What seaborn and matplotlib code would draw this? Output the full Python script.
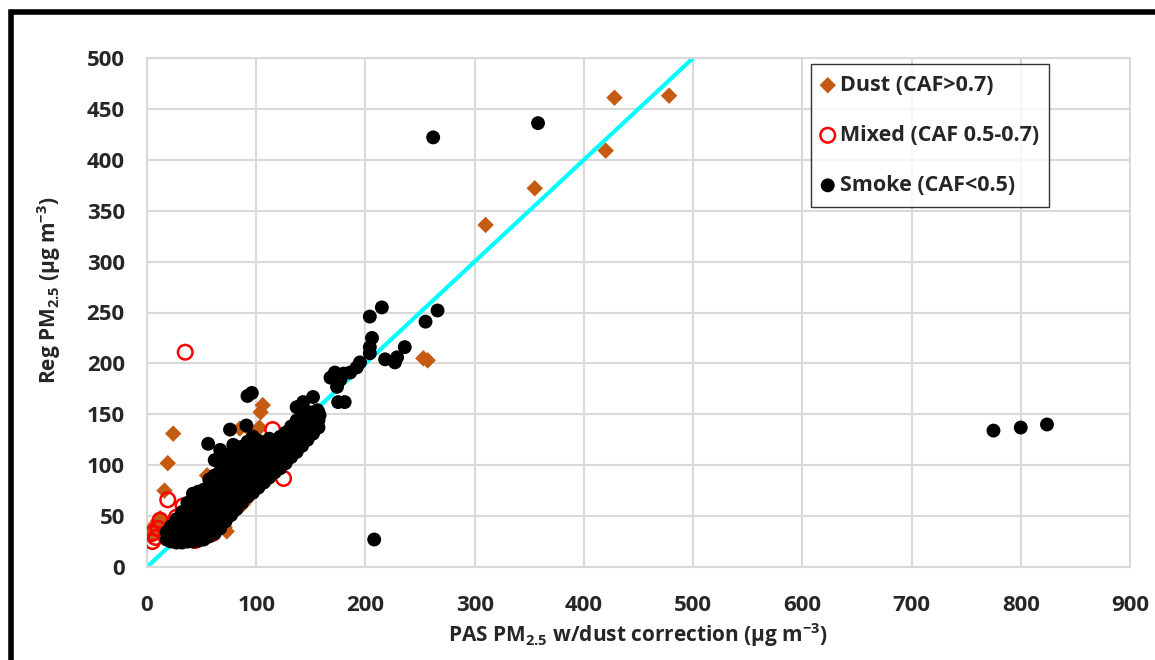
import numpy as np
import pandas as pd
import matplotlib
matplotlib.use("Agg")
import matplotlib.pyplot as plt
import seaborn as sns
from matplotlib.patches import Rectangle

# Dust (CAF>0.7)
dust_x = [478, 428, 420, 355, 310, 253, 257,
          24, 19, 16, 106, 104, 103, 97, 94, 85, 92, 71,
          3, 5, 7, 8, 10, 12, 14, 16,
          71, 73, 91, 88, 84, 78, 66, 76, 82, 57, 55, 60,
          95, 100, 110, 115, 120, 45, 50, 38, 30, 62]
dust_y = [463, 461, 409, 372, 336, 205, 203,
          131, 102, 75, 159, 152, 137, 128, 123, 136, 137, 107,
          30, 38, 35, 42, 45, 48, 44, 40,
          39, 35, 66, 62, 58, 54, 44, 61, 56, 88, 90, 80,
          72, 78, 85, 92, 98, 32, 36, 30, 28, 40]

# Mixed (CAF 0.5-0.7)
mixed_x = [35, 115, 125, 19, 33, 27, 12, 5, 5, 10, 51, 46, 60, 38, 44, 8]
mixed_y = [211, 135, 87, 66, 60, 49, 46, 33, 25, 38, 30, 27, 33, 27, 26, 29]

# Smoke (CAF<0.5), band columns
smoke_cols = {
    18: [27, 34],
    22: [25, 32, 40],
    27: [24, 31, 39, 47],
    32: [24, 31, 39, 47, 54],
    37: [25, 32, 40, 48, 56, 63],
    42: [25, 33, 41, 49, 57, 65, 72],
    47: [26, 34, 42, 50, 58, 66, 74],
    52: [27, 35, 43, 51, 59, 67, 76],
    57: [30, 38, 46, 54, 62, 70, 78, 86],
    62: [33, 41, 49, 57, 65, 73, 81, 90],
    67: [38, 46, 54, 62, 70, 78, 86, 94],
    72: [45, 52, 60, 68, 76, 84, 92, 100, 108],
    77: [51, 58, 66, 74, 82, 90, 98, 106, 112],
    82: [57, 64, 72, 80, 88, 96, 104, 112, 118],
    87: [63, 70, 78, 86, 94, 102, 110, 118],
    92: [69, 75, 83, 91, 99, 107, 115, 123],
    97: [73, 80, 88, 96, 104, 112, 120, 128],
    102: [78, 84, 92, 100, 108, 116, 124],
    107: [83, 90, 98, 106, 114, 122],
    112: [88, 94, 102, 110, 118, 126],
    117: [93, 100, 108, 116, 124],
    122: [97, 104, 112, 120, 128],
    127: [102, 108, 116, 124, 132],
    132: [108, 114, 122, 130, 138],
    137: [113, 120, 128, 136, 144],
    142: [119, 126, 134, 142, 150],
    147: [125, 132, 140, 148],
    152: [131, 138, 146],
    157: [137, 144, 152],
}
smoke_extra_x = [56, 62, 67, 76, 79, 91, 92, 96, 208,
                 262, 358, 775, 800, 824,
                 215, 204, 266, 255, 206, 204, 204, 218, 229, 227, 236,
                 195, 192, 186, 180, 172, 168, 177, 174, 181, 175, 152,
                 143, 137, 156, 149, 158]
smoke_extra_y = [121, 105, 115, 135, 120, 139, 168, 171, 27,
                 422, 436, 134, 137, 140,
                 255, 246, 252, 241, 225, 216, 210, 204, 206, 201, 216,
                 201, 196, 191, 190, 191, 186, 184, 177, 162, 162, 167,
                 162, 157, 154, 152, 149]

smoke_x = [x for x, ys in smoke_cols.items() for _ in ys] + smoke_extra_x
smoke_y = [y for ys in smoke_cols.values() for y in ys] + smoke_extra_y

x_ticks = list(range(0, 901, 100))
y_ticks = list(range(0, 501, 50))

dust = pd.DataFrame({"pas": dust_x, "reg": dust_y})
mixed = pd.DataFrame({"pas": mixed_x, "reg": mixed_y})
smoke = pd.DataFrame({"pas": smoke_x, "reg": smoke_y})

sns.set_style("white")
plt.rcParams["font.family"] = ["Open Sans", "DejaVu Sans"]
plt.rcParams["font.weight"] = "bold"
plt.rcParams["mathtext.fontset"] = "custom"
plt.rcParams["mathtext.rm"] = "Open Sans:bold"
plt.rcParams["mathtext.it"] = "Open Sans:bold"
plt.rcParams["mathtext.bf"] = "Open Sans:bold"

fig = plt.figure(figsize=(11.55, 6.6), dpi=100)
ax = fig.add_axes([147 / 1155, 1 - 567 / 660, 983 / 1155, 509 / 660])

grid_c = "#D9D9D9"
ax.set_axisbelow(True)
ax.grid(True, color=grid_c, lw=1.5)
for s in ax.spines.values():
    s.set_color(grid_c)
    s.set_linewidth(1.5)

# 1:1 line
ax.plot([0, 500], [0, 500], color="#00FFFF", lw=3, zorder=2)

sns.scatterplot(data=dust, x="pas", y="reg", marker="D", s=70, color="#C55A11",
                edgecolor="none", ax=ax, label="Dust (CAF>0.7)", zorder=3)
sns.scatterplot(data=mixed, x="pas", y="reg", marker="o", s=110, facecolors="none",
                edgecolors="#FF0000", linewidth=1.8, ax=ax,
                label="Mixed (CAF 0.5-0.7)", zorder=4)
sns.scatterplot(data=smoke, x="pas", y="reg", marker="o", s=100, color="black",
                edgecolor="none", ax=ax, label="Smoke (CAF<0.5)", zorder=5)

ax.set_xlim(0, 900)
ax.set_ylim(0, 500)
ax.set_xticks(x_ticks)
ax.set_yticks(y_ticks)
ax.tick_params(length=0, labelsize=16)
ax.tick_params(axis="y", pad=16)
ax.tick_params(axis="x", pad=20)
for t in ax.get_xticklabels() + ax.get_yticklabels():
    t.set_fontweight("bold")

ax.set_xlabel("PAS PM$_{2.5}$ w/dust correction (µg m$^{-3}$)", fontsize=15,
              fontweight="bold", labelpad=4)
ax.set_ylabel("Reg PM$_{2.5}$ (µg m$^{-3}$)", fontsize=15, fontweight="bold")
ax.yaxis.set_label_coords(-0.0855, 0.544)

leg = ax.legend(loc="upper left", bbox_to_anchor=(0.675, 0.988), borderaxespad=0,
                fontsize=15.5, frameon=True, fancybox=False, handletextpad=0.25,
                labelspacing=1.35, borderpad=0.5, handlelength=0.6)
leg.get_frame().set_edgecolor("black")
leg.get_frame().set_linewidth(1.0)
for t in leg.get_texts():
    t.set_fontweight("bold")

# outer frame of the pasted chart
fig.add_artist(Rectangle((11 / 1155, -0.1), 1.2, 1.1 - 12 / 660,
                         transform=fig.transFigure, fill=False,
                         edgecolor="black", lw=4))

fig.savefig("out.png", dpi=100)
